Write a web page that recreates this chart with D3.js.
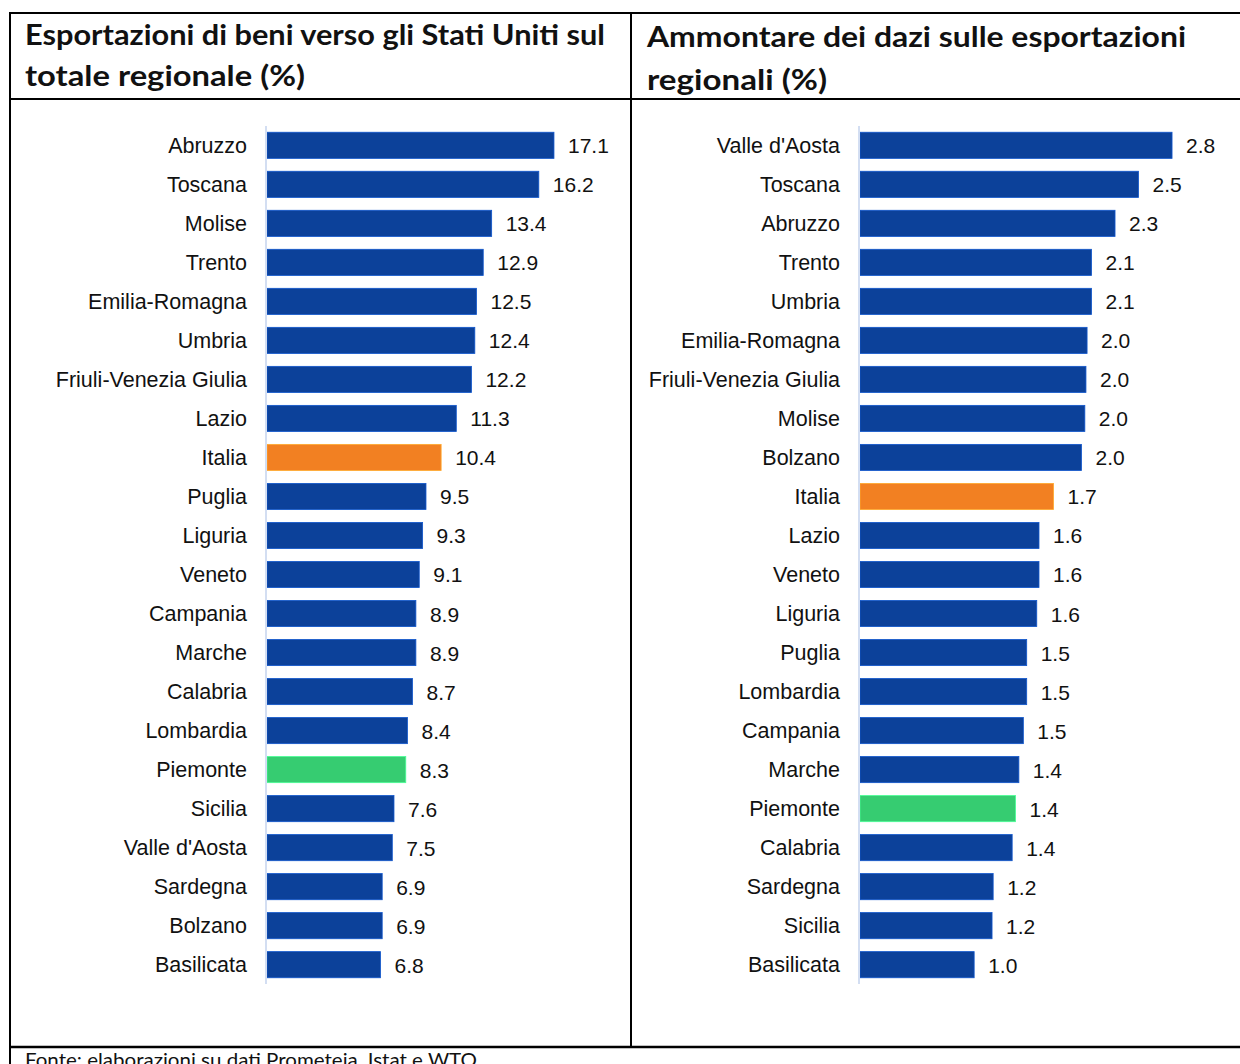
<!DOCTYPE html>
<html>
<head>
<meta charset="utf-8">
<script src="https://cdn.jsdelivr.net/npm/d3@7"></script>
<style>
  body { margin: 0; background: #fff; }
  svg { display: block; }
</style>
</head>
<body>
<svg id="chart"></svg>
<script>
// left panel: share of exports to the US
const leftRegions = ["Abruzzo", "Toscana", "Molise", "Trento", "Emilia-Romagna", "Umbria",
  "Friuli-Venezia Giulia", "Lazio", "Italia", "Puglia", "Liguria", "Veneto", "Campania",
  "Marche", "Calabria", "Lombardia", "Piemonte", "Sicilia", "Valle d'Aosta", "Sardegna",
  "Bolzano", "Basilicata"];
const leftValues = [17.1, 16.2, 13.4, 12.9, 12.5, 12.4, 12.2, 11.3, 10.4, 9.5, 9.3, 9.1,
  8.9, 8.9, 8.7, 8.4, 8.3, 7.6, 7.5, 6.9, 6.9, 6.8];

// right panel: duties on regional exports
const rightRegions = ["Valle d'Aosta", "Toscana", "Abruzzo", "Trento", "Umbria", "Emilia-Romagna",
  "Friuli-Venezia Giulia", "Molise", "Bolzano", "Italia", "Lazio", "Veneto", "Liguria",
  "Puglia", "Lombardia", "Campania", "Marche", "Piemonte", "Calabria", "Sardegna",
  "Sicilia", "Basilicata"];
const rightValues = [2.80, 2.50, 2.29, 2.08, 2.08, 2.04, 2.03, 2.02, 1.99, 1.74, 1.61, 1.61,
  1.59, 1.50, 1.50, 1.47, 1.43, 1.40, 1.37, 1.20, 1.19, 1.03];

const leftTitle = ["Esportazioni di beni verso gli Stati Uniti sul", "totale regionale (%)"];
const rightTitle = ["Ammontare dei dazi sulle esportazioni", "regionali (%)"];
const source = "Fonte: elaborazioni su dati Prometeia, Istat e WTO";

const W = 1240, H = 1064;
const blue = "#0c419a", orange = "#f28022", green = "#36cc71";

const svg = d3.select("#chart").attr("width", W).attr("height", H);

function colorFor(name) {
  if (name === "Italia") return orange;
  if (name === "Piemonte") return green;
  return blue;
}

function drawPanel(regions, values, opts) {
  const g = svg.append("g");
  const y = d3.scaleBand()
    .domain(regions)
    .range([opts.top, opts.top + regions.length * 39.0])
    .paddingInner(0.33)
    .paddingOuter(0.16);
  const x = d3.scaleLinear()
    .domain([0, opts.max])
    .range([opts.x0, opts.x1]);

  const rows = regions.map((r, i) => ({ name: r, value: values[i] }));

  g.selectAll("rect.bar")
    .data(rows)
    .enter().append("rect")
    .attr("class", "bar")
    .attr("x", x(0) + 1)
    .attr("y", d => y(d.name))
    .attr("width", d => x(d.value) - x(0) - 1)
    .attr("height", y.bandwidth())
    .attr("fill", d => colorFor(d.name))
    .attr("stroke", d => d3.color(colorFor(d.name)).brighter(0.8))
    .attr("stroke-width", 0.8);

  // baseline
  g.append("line")
    .attr("x1", x(0)).attr("x2", x(0))
    .attr("y1", opts.top).attr("y2", opts.top + regions.length * 39.0)
    .attr("stroke", "#d3def2")
    .attr("stroke-width", 2);

  g.selectAll("text.cat")
    .data(rows)
    .enter().append("text")
    .attr("class", "cat")
    .attr("x", x(0) - 19)
    .attr("y", d => y(d.name) + y.bandwidth() / 2)
    .attr("dy", "0.35em")
    .attr("text-anchor", "end")
    .style("font-family", "'Liberation Sans', Arial, sans-serif")
    .style("font-size", "21.5px")
    .attr("fill", "#111")
    .text(d => d.name);

  g.selectAll("text.val")
    .data(rows)
    .enter().append("text")
    .attr("class", "val")
    .attr("x", d => x(d.value) + 14)
    .attr("y", d => y(d.name) + y.bandwidth() / 2)
    .attr("dy", "0.38em")
    .style("font-family", "'Liberation Sans', Arial, sans-serif")
    .style("font-size", "21px")
    .attr("fill", "#111")
    .text(d => d3.format(".1f")(d.value));

  // title
  opts.title.forEach((line, i) => {
    svg.append("text")
      .attr("x", opts.titleX)
      .attr("y", opts.titleY[i])
      .style("font-family", "'Lato', 'DejaVu Sans', sans-serif")
      .style("font-weight", "bold")
      .style("font-size", "28px")
      .attr("fill", "#111")
      .attr("textLength", opts.titleW[i])
      .attr("lengthAdjust", "spacingAndGlyphs")
      .text(line);
  });
}

drawPanel(leftRegions, leftValues, {
  top: 126, x0: 266, x1: 266 + 16.84 * 17.1, max: 17.1,
  title: leftTitle, titleX: 25, titleY: [45, 86], titleW: [580, 280]
});

drawPanel(rightRegions, rightValues, {
  top: 126, x0: 859, x1: 859 + 111.8 * 2.8, max: 2.8,
  title: rightTitle, titleX: 647, titleY: [47, 90], titleW: [539, 180]
});

// table frame
const frame = svg.append("g").attr("stroke", "#000").attr("stroke-width", 2);
frame.append("line").attr("x1", 10).attr("x2", W).attr("y1", 13).attr("y2", 13);
frame.append("line").attr("x1", 10).attr("x2", W).attr("y1", 99).attr("y2", 99);
frame.append("line").attr("x1", 10).attr("x2", W).attr("y1", 1047).attr("y2", 1047).attr("stroke-width", 2.5);
frame.append("line").attr("x1", 10).attr("x2", 10).attr("y1", 12).attr("y2", H);
frame.append("line").attr("x1", 631).attr("x2", 631).attr("y1", 12).attr("y2", 1047);

svg.append("text")
  .attr("x", 25)
  .attr("y", 1067)
  .style("font-family", "'Lato', 'DejaVu Sans', sans-serif")
  .style("font-size", "19px")
  .attr("fill", "#111")
  .attr("textLength", 452)
  .attr("lengthAdjust", "spacingAndGlyphs")
  .text(source);
</script>
</body>
</html>
